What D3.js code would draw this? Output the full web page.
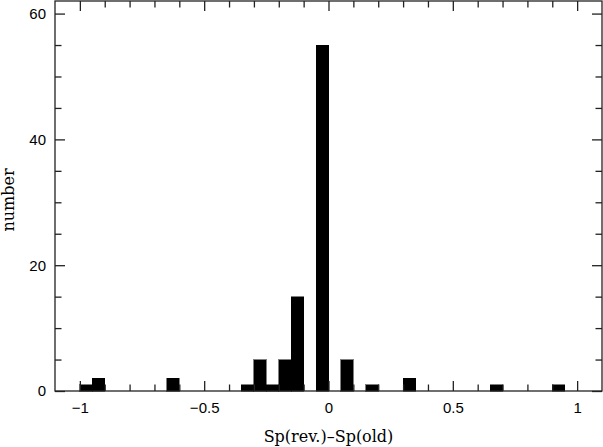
<!DOCTYPE html>
<html>
<head>
<meta charset="utf-8">
<title>Sp(rev.)-Sp(old)</title>
<style>
  body { margin: 0; background: #fff; }
  .tick text { font-family: "Liberation Sans", Arial, sans-serif; font-size: 15px; fill: #000; }
  .tick line { stroke: #222; stroke-width: 1.3; }
  .label { font-family: "DejaVu Serif", serif; font-size: 16px; fill: #000; }
</style>
</head>
<body>
<svg width="603" height="447"></svg>
<script src="https://d3js.org/d3.v7.min.js"></script>
<script>

// histogram bins, width 0.05, left edge of each non-empty bin
var binLeft = [-1.00, -0.95, -0.65, -0.35, -0.30, -0.25, -0.20, -0.15, -0.05, 0.05, 0.15, 0.30, 0.65, 0.90];
var counts  = [1, 2, 2, 1, 5, 1, 5, 15, 55, 5, 1, 2, 1, 1];
var binWidth = 0.05;

var xMajor = [-1, -0.5, 0, 0.5, 1];
var xMinor = [-0.9, -0.8, -0.7, -0.6, -0.4, -0.3, -0.2, -0.1, 0.1, 0.2, 0.3, 0.4, 0.6, 0.7, 0.8, 0.9];
var yMajor = [0, 20, 40, 60];
var yMinor = [5, 10, 15, 25, 30, 35, 45, 50, 55];

var svg = d3.select("svg");

var x = d3.scaleLinear().domain([-1.1, 1.1]).range([55, 602]);
var y = d3.scaleLinear().domain([0, 62]).range([391, 1]);

var fmt = function(d) { return d3.format("")(d).replace("-", "\u2212"); };

// bars
svg.append("g")
    .attr("shape-rendering", "crispEdges")
  .selectAll("rect")
  .data(binLeft)
  .enter().append("rect")
    .attr("x", function(d) { return x(d); })
    .attr("width", function(d) { return x(d + binWidth) - x(d); })
    .attr("y", function(d, i) { return y(counts[i]); })
    .attr("height", function(d, i) { return y(0) - y(counts[i]); })
    .attr("fill", "#000")
    .attr("stroke", "#000")
    .attr("stroke-width", 0.5);

// axes, ticks pointing inward
function addAxis(axis, tx, ty) {
  var g = svg.append("g")
    .attr("transform", "translate(" + tx + "," + ty + ")")
    .call(axis);
  g.select(".domain").remove();
  return g;
}

addAxis(d3.axisBottom(x).tickValues(xMajor).tickSize(-10).tickPadding(11).tickFormat(fmt), 0, 391);
addAxis(d3.axisBottom(x).tickValues(xMinor).tickSize(-6.5).tickFormat(""), 0, 391);
addAxis(d3.axisTop(x).tickValues(xMajor).tickSize(-10).tickFormat(""), 0, 1);
addAxis(d3.axisTop(x).tickValues(xMinor).tickSize(-6.5).tickFormat(""), 0, 1);

addAxis(d3.axisLeft(y).tickValues(yMajor).tickSize(-10).tickPadding(9).tickFormat(fmt), 55, 0);
addAxis(d3.axisLeft(y).tickValues(yMinor).tickSize(-6.5).tickFormat(""), 55, 0);
addAxis(d3.axisRight(y).tickValues(yMajor).tickSize(-10).tickFormat(""), 602, 0);
addAxis(d3.axisRight(y).tickValues(yMinor).tickSize(-6.5).tickFormat(""), 602, 0);

// frame
svg.append("rect")
  .attr("x", 55)
  .attr("y", 1)
  .attr("width", 602 - 55)
  .attr("height", 391 - 1)
  .attr("fill", "none")
  .attr("stroke", "#222")
  .attr("stroke-width", 1.3);

// axis labels
svg.append("text")
  .attr("class", "label")
  .attr("x", x(0))
  .attr("y", 442)
  .attr("text-anchor", "middle")
  .text("Sp(rev.)\u2013Sp(old)");

svg.append("text")
  .attr("class", "label")
  .attr("transform", "translate(14,200) rotate(-90)")
  .attr("text-anchor", "middle")
  .text("number");

</script>
</body>
</html>
